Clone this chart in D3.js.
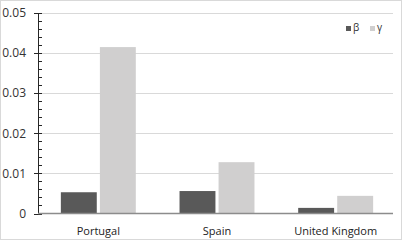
<!DOCTYPE html>
<html>
<head>
<meta charset="utf-8">
<script src="https://cdn.jsdelivr.net/npm/d3@7"></script>
<style>
  body { margin: 0; background: #fff; }
  svg { display: block; font-family: "Open Sans", "Noto Sans", sans-serif; }
</style>
</head>
<body>
<svg width="403" height="241"></svg>
<script>
const countries = ["Portugal", "Spain", "United Kingdom"];
const seriesNames = ["β", "γ"];
const beta = [0.0053, 0.0056, 0.0014];
const gamma = [0.0415, 0.0128, 0.0044];
const yTicks = [0, 0.01, 0.02, 0.03, 0.04, 0.05];
const colours = ["#595959", "#d0cfcf"];

const svg = d3.select("svg");
const plotLeft = 39, plotRight = 395, plotTop = 13, plotBottom = 213.5;

// outer frame
svg.append("rect")
  .attr("x", 0.5).attr("y", 0.5)
  .attr("width", 401).attr("height", 239)
  .attr("fill", "none").attr("stroke", "#d9d9d9");

const x = d3.scaleBand().domain(countries).range([plotLeft, plotRight]);
const y = d3.scaleLinear().domain([0, 0.05]).range([plotBottom, plotTop]);

// gridlines
svg.append("g")
  .selectAll("line")
  .data(yTicks.slice(1))
  .join("line")
  .attr("x1", plotLeft).attr("x2", plotRight - 2)
  .attr("y1", (d) => Math.round(y(d)) + 0.5)
  .attr("y2", (d) => Math.round(y(d)) + 0.5)
  .attr("stroke", "#d9d9d9");

// bars
const inner = d3.scaleBand().domain(seriesNames).range([0, x.bandwidth()])
  .paddingOuter(0.56).paddingInner(0.08);
const rows = countries.map((c, i) => [beta[i], gamma[i]]);
svg.append("g")
  .selectAll("g")
  .data(rows)
  .join("g")
  .attr("transform", (d, i) => `translate(${x(countries[i])},0)`)
  .selectAll("rect")
  .data((d) => d.map((v, j) => [v, j]))
  .join("rect")
  .attr("x", (d) => inner(seriesNames[d[1]]))
  .attr("width", inner.bandwidth())
  .attr("y", (d) => y(d[0]))
  .attr("height", (d) => y(0) - y(d[0]))
  .attr("fill", (d) => colours[d[1]]);

// y axis
const yAxis = svg.append("g");
yAxis.append("line")
  .attr("x1", plotLeft - 0.5).attr("x2", plotLeft - 0.5)
  .attr("y1", plotTop).attr("y2", plotBottom)
  .attr("stroke", "#262626");
const minor = d3.range(0, 0.0501, 0.002);
yAxis.selectAll(".minor")
  .data(minor)
  .join("line")
  .attr("class", "minor")
  .attr("x1", plotLeft - 0.5).attr("x2", plotLeft + 3)
  .attr("y1", (d) => Math.round(y(d)) + 0.5)
  .attr("y2", (d) => Math.round(y(d)) + 0.5)
  .attr("stroke", "#262626");
yAxis.selectAll(".major")
  .data(yTicks)
  .join("line")
  .attr("class", "major")
  .attr("x1", plotLeft - 5).attr("x2", plotLeft + 3)
  .attr("y1", (d) => Math.round(y(d)) + 0.5)
  .attr("y2", (d) => Math.round(y(d)) + 0.5)
  .attr("stroke", "#262626");
yAxis.selectAll("text")
  .data(yTicks)
  .join("text")
  .attr("x", 26)
  .attr("y", (d) => y(d))
  .attr("dy", "0.35em")
  .attr("text-anchor", "end")
  .attr("font-size", 12)
  .attr("fill", "#333")
  .text((d) => (d === 0 ? "0" : d3.format(".2f")(d)));

// x axis baseline
svg.append("line")
  .attr("x1", plotLeft - 1).attr("x2", plotRight - 2)
  .attr("y1", plotBottom).attr("y2", plotBottom)
  .attr("stroke", "#8c8c8c").attr("stroke-width", 1.5);

svg.append("g")
  .selectAll("text")
  .data(countries)
  .join("text")
  .attr("x", (d) => x(d) + x.bandwidth() / 2)
  .attr("y", 235)
  .attr("text-anchor", "middle")
  .attr("font-size", 11)
  .attr("fill", "#222")
  .text((d) => d);

// legend
const legendX = [346, 370];
const legend = svg.append("g")
  .selectAll("g")
  .data(seriesNames)
  .join("g")
  .attr("transform", (d, i) => `translate(${legendX[i]},26)`);
legend.append("rect")
  .attr("width", 5).attr("height", 5)
  .attr("fill", (d, i) => colours[i]);
legend.append("text")
  .attr("x", 7).attr("y", 5)
  .attr("font-size", 10)
  .attr("fill", "#333")
  .text((d) => d);
</script>
</body>
</html>
